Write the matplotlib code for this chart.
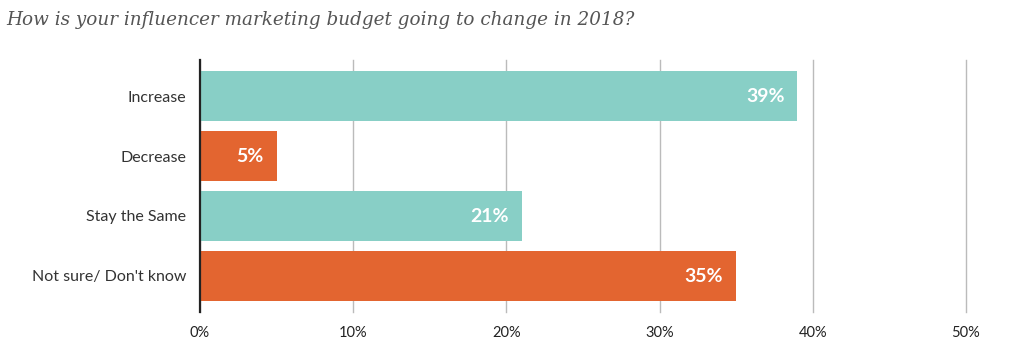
import matplotlib.pyplot as plt

categories = ["Increase", "Decrease", "Stay the Same", "Not sure/ Don't know"]
values = [39, 5, 21, 35]
colors = ["#88cfc6", "#e36530", "#88cfc6", "#e36530"]
ticks = [0, 10, 20, 30, 40, 50]

fig = plt.figure(figsize=(10.24, 3.54), dpi=100)
ax = fig.add_axes([200 / 1024, 1 - 312 / 354, 766 / 1024, 252 / 354])

ypos = range(len(categories))
ax.barh(ypos, values, height=0.83, color=colors, zorder=2)
for y, v in zip(ypos, values):
    ax.text(v - 0.85, y, f"{v}%", ha="right", va="center", color="white",
            fontsize=14, fontweight="bold", family="Lato", zorder=3)

ax.set_xlim(0, 50)
ax.set_ylim(3.6, -0.6)
ax.set_yticks(list(ypos))
ax.set_yticklabels(categories, family="Lato", fontsize=11.5, color="#333333")
ax.set_xticks(ticks)
ax.set_xticklabels([f"{t}%" for t in ticks], family="Lato", fontsize=10.5, color="#222222")
ax.tick_params(axis="y", length=0, pad=10)
ax.tick_params(axis="x", length=0, pad=10)
ax.grid(axis="x", color="#bbbbbb", linewidth=1, zorder=1)
for line in ax.get_xgridlines():
    line.set_clip_on(False)
for s in ["top", "right", "bottom"]:
    ax.spines[s].set_visible(False)
ax.spines["left"].set_color("#222222")
ax.spines["left"].set_linewidth(1.6)
ax.spines["left"].set_zorder(4)

fig.text(6 / 1024, 1 - 20 / 354, "How is your influencer marketing budget going to change in 2018?",
         family="DejaVu Serif", style="italic", fontsize=13.2, color="#555555", va="center")

fig.savefig("out.png", dpi=100)
